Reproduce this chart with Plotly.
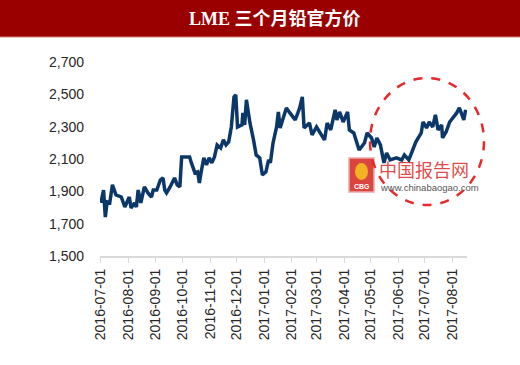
import plotly.graph_objects as go

dates = [
    "2016-07-01", "2016-07-04", "2016-07-06", "2016-07-08", "2016-07-11", "2016-07-14",
    "2016-07-18", "2016-07-21", "2016-07-24", "2016-07-28", "2016-08-02", "2016-08-04",
    "2016-08-08", "2016-08-10", "2016-08-12", "2016-08-15", "2016-08-19", "2016-08-23",
    "2016-08-27", "2016-08-29", "2016-09-02", "2016-09-06", "2016-09-09", "2016-09-11",
    "2016-09-13", "2016-09-17", "2016-09-22", "2016-09-25", "2016-09-28", "2016-09-30",
    "2016-10-09", "2016-10-11", "2016-10-15", "2016-10-18", "2016-10-20", "2016-10-22",
    "2016-10-25", "2016-10-28", "2016-10-31", "2016-11-03", "2016-11-06", "2016-11-09",
    "2016-11-13", "2016-11-16", "2016-11-19", "2016-11-22", "2016-11-25", "2016-11-28",
    "2016-11-30", "2016-12-02", "2016-12-07", "2016-12-08", "2016-12-10", "2016-12-12",
    "2016-12-16", "2016-12-20", "2016-12-23", "2016-12-27", "2016-12-30", "2017-01-03",
    "2017-01-06", "2017-01-08", "2017-01-11", "2017-01-15", "2017-01-17", "2017-01-19",
    "2017-01-22", "2017-01-26", "2017-01-30", "2017-02-05", "2017-02-08", "2017-02-10",
    "2017-02-13", "2017-02-15", "2017-02-21", "2017-02-24", "2017-03-01", "2017-03-05",
    "2017-03-10", "2017-03-13", "2017-03-17", "2017-03-22", "2017-03-24", "2017-03-27",
    "2017-03-31", "2017-04-05", "2017-04-07", "2017-04-12", "2017-04-18", "2017-04-24",
    "2017-04-27", "2017-05-02", "2017-05-05", "2017-05-08", "2017-05-12", "2017-05-16",
    "2017-05-19", "2017-05-23", "2017-05-30", "2017-06-05", "2017-06-08", "2017-06-13",
    "2017-06-17", "2017-06-21", "2017-06-27", "2017-06-29", "2017-07-03", "2017-07-06",
    "2017-07-10", "2017-07-13", "2017-07-16", "2017-07-20", "2017-07-21", "2017-07-25",
    "2017-07-29", "2017-08-02", "2017-08-06", "2017-08-09", "2017-08-11", "2017-08-14",
    "2017-08-16",
]
prices = [
    1828, 1908, 1741, 1834, 1828, 1940,
    1878, 1870, 1865, 1803, 1865, 1797,
    1828, 1803, 1908, 1828, 1927, 1890,
    1865, 1908, 1908, 1970, 1983, 1908,
    1890, 1927, 1983, 1940, 1927, 2113,
    2113, 2076, 2014, 2020, 1952, 2020,
    2107, 2063, 2107, 2076, 2113, 2187,
    2168, 2218, 2187, 2206, 2298, 2484,
    2497, 2298, 2311, 2385, 2311, 2466,
    2323, 2218, 2125, 2107, 2001, 2020,
    2094, 2076, 2199, 2298, 2391, 2292,
    2342, 2416, 2385, 2342, 2385, 2416,
    2484, 2292, 2323, 2249, 2298, 2261,
    2218, 2323, 2280, 2404, 2342, 2391,
    2329, 2391, 2280, 2261, 2156, 2199,
    2261, 2230, 2175, 2230, 2187, 2076,
    2137, 2094, 2107, 2094, 2125, 2094,
    2144, 2206, 2261, 2329, 2292, 2329,
    2298, 2373, 2280, 2311, 2230, 2267,
    2329, 2354, 2385, 2416, 2385, 2342,
    2404,
]
y_ticks = [1500, 1700, 1900, 2100, 2300, 2500, 2700]
title_text = "LME 三个月铅官方价"
watermark_cn = "中国报告网"
watermark_url = "www.chinabaogao.com"

fig = go.Figure()
fig.add_trace(go.Scatter(
    x=dates, y=prices, mode="lines",
    line=dict(color="#0b3868", width=3.5),
    hoverinfo="x+y", showlegend=False,
))

W, H = 520, 365
L, R, T, B = 100, 53, 62, 109
pw, ph = W - L - R, H - T - B

def px(x):
    return (x - L) / pw

def py(y):
    return (H - B - y) / ph

shapes = [
    # title bar
    dict(type="rect", xref="paper", yref="paper", x0=px(-2), x1=px(W + 2), y0=py(37), y1=py(-2),
         fillcolor="#9b0000", line=dict(width=0), layer="above"),
    dict(type="line", xref="paper", yref="paper", x0=px(0), x1=px(W), y0=py(37), y1=py(37),
         line=dict(color="#d98080", width=1)),
    # logo box
    dict(type="rect", xref="paper", yref="paper", x0=px(349), x1=px(374), y0=py(192), y1=py(158),
         fillcolor="#d9302c", line=dict(color="#e8a0a0", width=1.5), opacity=0.9),
    dict(type="circle", xref="paper", yref="paper", x0=px(355), x1=px(368), y0=py(180), y1=py(163),
         fillcolor="#f4c020", line=dict(width=0), opacity=0.9),
    # highlight circle
    dict(type="circle", xref="paper", yref="paper", x0=px(370), x1=px(484), y0=py(205), y1=py(78),
         line=dict(color="#e8282b", width=2.5, dash="dash")),
]

annotations = [
    dict(text="<b>" + title_text + "</b>", xref="paper", yref="paper", x=px(275), y=py(18.5),
         showarrow=False, xanchor="center", yanchor="middle",
         font=dict(family="Liberation Serif, Noto Sans CJK SC", size=18, color="white")),
    dict(text=watermark_cn, xref="paper", yref="paper", x=px(377), y=py(169),
         showarrow=False, xanchor="left", yanchor="middle",
         font=dict(family="Noto Sans CJK SC", size=18, color="rgba(220,40,40,0.85)")),
    dict(text=watermark_url, xref="paper", yref="paper", x=px(378), y=py(187.5),
         showarrow=False, xanchor="left", yanchor="middle",
         font=dict(family="Liberation Sans, Arial", size=9.5, color="#555555")),
    dict(text="<b>CBG</b>", xref="paper", yref="paper", x=px(361.5), y=py(186),
         showarrow=False, xanchor="center", yanchor="middle",
         font=dict(family="Liberation Sans, Arial", size=7, color="white")),
]

fig.update_layout(
    width=W, height=H, autosize=False,
    margin=dict(l=L, r=R, t=T, b=B, pad=0),
    paper_bgcolor="white", plot_bgcolor="white",
    shapes=shapes, annotations=annotations,
    font=dict(family="Liberation Sans, Arial", size=14, color="#262626"),
    xaxis=dict(
        type="date", range=["2016-06-30", "2017-08-17T14:00"],
        tick0="2016-07-01", dtick="M1", tickformat="%Y-%m-%d", tickangle=-90,
        showgrid=False, zeroline=False,
        showline=True, linecolor="#d9d9d9", linewidth=2,
        ticks="outside", ticklen=5, tickwidth=1, tickcolor="#d9d9d9",
        tickfont=dict(size=14, color="#262626"),
    ),
    yaxis=dict(
        range=[1500, 2700], tickvals=y_ticks, tickformat=",",
        showgrid=False, zeroline=False, showline=False, ticks="",
        ticklabelstandoff=15,
        tickfont=dict(size=14, color="#262626"),
    ),
)

fig.write_html("out.html", config={"displayModeBar": False},
               post_script="document.body.style.margin='0';")
